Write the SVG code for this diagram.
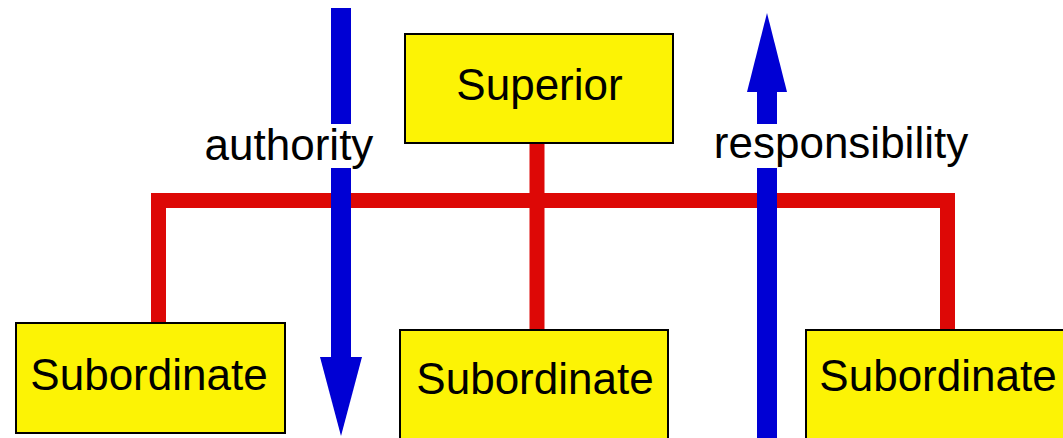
<svg xmlns="http://www.w3.org/2000/svg" width="1063" height="438" viewBox="0 0 1063 438">
<style>
.box{fill:#FCF305;stroke:#000;stroke-width:2}
.lbl{font-family:"Liberation Sans",Arial,sans-serif;font-size:44px;fill:#000;text-anchor:middle}
.red{fill:none;stroke:#DD0806;stroke-width:15;stroke-linejoin:miter}
.blue{fill:#0000D4}
</style>
<rect width="1063" height="438" fill="#fff"/>
<g id="connectors">
<path class="red" d="M158.5,323 V200.5 H947.5 V330"/>
<path class="red" d="M537,143 V330"/>
</g>
<g id="arrows">
<g id="authority-arrow">
<rect class="blue" x="331" y="8" width="20" height="116"/>
<rect class="blue" x="331" y="168" width="20" height="190"/>
<polygon class="blue" points="320,357 362,357 341,436"/>
<text class="lbl" x="289" y="160">authority</text>
</g>
<g id="responsibility-arrow">
<polygon class="blue" points="747,92 787,92 767,13"/>
<rect class="blue" x="757" y="91" width="20" height="33"/>
<rect class="blue" x="757" y="168" width="20" height="270"/>
<text class="lbl" x="841" y="158">responsibility</text>
</g>
</g>
<g id="superior">
<rect class="box" x="405" y="34" width="268" height="109"/>
<text class="lbl" x="539.5" y="100">Superior</text>
</g>
<g id="sub-left">
<rect class="box" x="16" y="323" width="269" height="110"/>
<text class="lbl" x="149" y="390">Subordinate</text>
</g>
<g id="sub-mid">
<rect class="box" x="400" y="330" width="268" height="120"/>
<text class="lbl" x="535" y="394">Subordinate</text>
</g>
<g id="sub-right">
<rect class="box" x="806" y="330" width="268" height="120"/>
<text class="lbl" x="938" y="391">Subordinate</text>
</g>
</svg>
